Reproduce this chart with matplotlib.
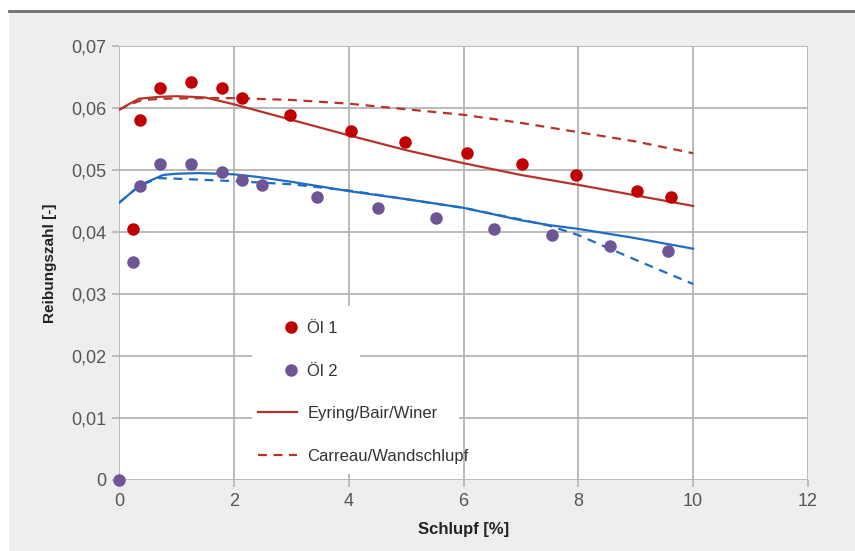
import matplotlib
matplotlib.use("Agg")
import matplotlib.pyplot as plt
from matplotlib.lines import Line2D
from matplotlib.patches import Rectangle
from matplotlib.legend_handler import HandlerLine2D
from matplotlib.ticker import FuncFormatter
import numpy as np

plt.rcParams['font.family'] = ['Liberation Sans', 'DejaVu Sans']

# Messpunkte
oel1_x = [0.24, 0.37, 0.71, 1.25, 1.79, 2.14, 2.98, 4.04, 4.98, 6.06, 7.02, 7.96, 9.02, 9.62]
oel1_y = [0.0405, 0.0581, 0.0632, 0.0642, 0.0632, 0.0616, 0.0589, 0.0563, 0.0545, 0.0527,
          0.0510, 0.0492, 0.0466, 0.0456]

oel2_x = [0.0, 0.24, 0.37, 0.71, 1.25, 1.79, 2.14, 2.49, 3.45, 4.51, 5.52, 6.53, 7.54, 8.55, 9.56]
oel2_y = [0.0, 0.0352, 0.0474, 0.0510, 0.0510, 0.0497, 0.0484, 0.0476, 0.0456, 0.0439,
          0.0423, 0.0405, 0.0395, 0.0377, 0.0369]

# Modellkurven
eyring1_x = [0.0, 0.15, 0.35, 0.7, 1.0, 1.5, 2.0, 3.0, 4.0, 5.0, 6.0, 7.0, 8.0, 9.0, 10.0]
eyring1_y = [0.0597, 0.0605, 0.0615, 0.0618, 0.0619, 0.0617, 0.0606, 0.0581, 0.0556, 0.0532,
             0.0511, 0.0492, 0.0476, 0.0459, 0.0442]
carreau1_x = [0.0, 0.15, 0.4, 0.8, 1.5, 2.0, 3.0, 4.0, 5.0, 6.0, 7.0, 8.0, 9.0, 10.0]
carreau1_y = [0.0597, 0.0604, 0.0613, 0.0615, 0.0616, 0.0616, 0.0613, 0.0607, 0.0598, 0.0589,
              0.0576, 0.0561, 0.0546, 0.0527]

eyring2_x = [0.0, 0.37, 0.77, 1.0, 1.4, 2.0, 2.4, 3.0, 4.0, 5.0, 6.0, 7.0, 7.5, 8.0, 9.0, 10.0]
eyring2_y = [0.0447, 0.0476, 0.0492, 0.0494, 0.0495, 0.0493, 0.0489, 0.0481, 0.0466, 0.0453,
             0.0439, 0.0419, 0.0411, 0.0405, 0.0390, 0.0373]
carreau2_x = [0.0, 0.35, 0.68, 1.0, 2.0, 3.0, 4.0, 5.0, 6.0, 7.0, 7.5, 8.0, 9.0, 10.0]
carreau2_y = [0.0447, 0.0474, 0.0487, 0.0486, 0.0482, 0.0477, 0.0467, 0.0453, 0.0439, 0.0420,
              0.0410, 0.0395, 0.0355, 0.0316]

x_ticks = [0, 2, 4, 6, 8, 10, 12]
y_ticks = [0, 0.01, 0.02, 0.03, 0.04, 0.05, 0.06, 0.07]

rot = '#c00000'
lila = '#6d5596'
rot_linie = '#b5332b'
blau = '#1f6cc0'
gitter = '#b4b4b4'


class HandlerRight(HandlerLine2D):
    # Marker rechts im Legendenfeld (Mitte der Linie liegt bei 85 % der Breite)
    def get_xdata(self, legend, xdescent, ydescent, width, height, fontsize):
        xd = np.array([-xdescent + 0.7 * width, -xdescent + width])
        return xd, np.array([-xdescent + 0.85 * width])


W, H = 855, 551
fig = plt.figure(figsize=(W / 100, H / 100), dpi=100)
fig.patch.set_facecolor('white')
fig.patches.append(Rectangle((9 / W, 0), 1, 1 - 11 / H, transform=fig.transFigure,
                             facecolor='#eeeeee', edgecolor='none', zorder=-10))
fig.lines.append(Line2D([9 / W, 1], [1 - 11 / H, 1 - 11 / H], transform=fig.transFigure,
                        color='#707070', lw=2, zorder=-9))

ax = fig.add_axes([119 / W, 1 - 480 / H, (808 - 119) / W, (480 - 46) / H])
ax.set_zorder(1)
ax.set_facecolor('white')

ax.plot(eyring1_x, eyring1_y, color=rot_linie, lw=1.6, zorder=3)
ax.plot(carreau1_x, carreau1_y, color=rot_linie, lw=1.6, ls=(0, (4, 3)), zorder=3)
ax.plot(eyring2_x, eyring2_y, color=blau, lw=1.6, zorder=3)
ax.plot(carreau2_x, carreau2_y, color=blau, lw=1.6, ls=(0, (4, 3)), zorder=3)

ax.plot(oel1_x, oel1_y, 'o', color=rot, ms=9, mec='none', zorder=4, clip_on=False)
ax.plot(oel2_x, oel2_y, 'o', color=lila, ms=9, mec='none', zorder=4, clip_on=False)

ax.set_xlim(0, 12)
ax.set_ylim(0, 0.07)
ax.set_xticks(x_ticks)
ax.set_yticks(y_ticks)
ax.yaxis.set_major_formatter(FuncFormatter(lambda v, p: '0' if v == 0 else f'{v:.2f}'.replace('.', ',')))
ax.grid(True, color=gitter, lw=1.3)
ax.set_axisbelow(True)
for s in ax.spines.values():
    s.set_visible(False)
ax.tick_params(axis='both', colors=gitter, labelcolor='#555555', labelsize=13, length=5,
               width=1.2, pad=4)

ax.set_xlabel('Schlupf [%]', fontsize=12, fontweight='bold', color='#222222', labelpad=9)
ax.set_ylabel('Reibungszahl [-]', fontsize=11, fontweight='bold', color='#222222', labelpad=10)


def add_white(x0, y0, x1, y1):
    # weisser Hintergrund hinter den Legendeneintraegen (Pixel der Figur)
    ax.add_patch(Rectangle((x0 / W, 1 - y1 / H), (x1 - x0) / W, (y1 - y0) / H,
                           transform=fig.transFigure, facecolor='white',
                           edgecolor='none', zorder=0.8, clip_on=False))


add_white(252, 306, 360, 390)
add_white(252, 390, 459, 474)

h_oel1 = Line2D([], [], marker='o', ls='none', color=rot, ms=9, mec='none')
h_oel2 = Line2D([], [], marker='o', ls='none', color=lila, ms=9, mec='none')
h_eyring = Line2D([], [], color=rot_linie, lw=1.6)
h_carreau = Line2D([], [], color=rot_linie, lw=1.6, ls=(0, (4, 3)))
handles = [h_oel1, h_oel2, h_eyring, h_carreau]
labels = ['Öl 1', 'Öl 2', 'Eyring/Bair/Winer', 'Carreau/Wandschlupf']
leg = ax.legend(handles, labels, loc='upper left',
                bbox_to_anchor=((258 - 119) / (808 - 119), (480 - 321) / (480 - 46)),
                frameon=False, fontsize=12, labelspacing=1.65, handlelength=2.35,
                handletextpad=0.6, borderpad=0.0, borderaxespad=0.0,
                handler_map={h_oel1: HandlerRight(), h_oel2: HandlerRight()})
leg.set_zorder(5)
for t in leg.get_texts():
    t.set_color('#333333')

fig.savefig('out.png', dpi=100)
